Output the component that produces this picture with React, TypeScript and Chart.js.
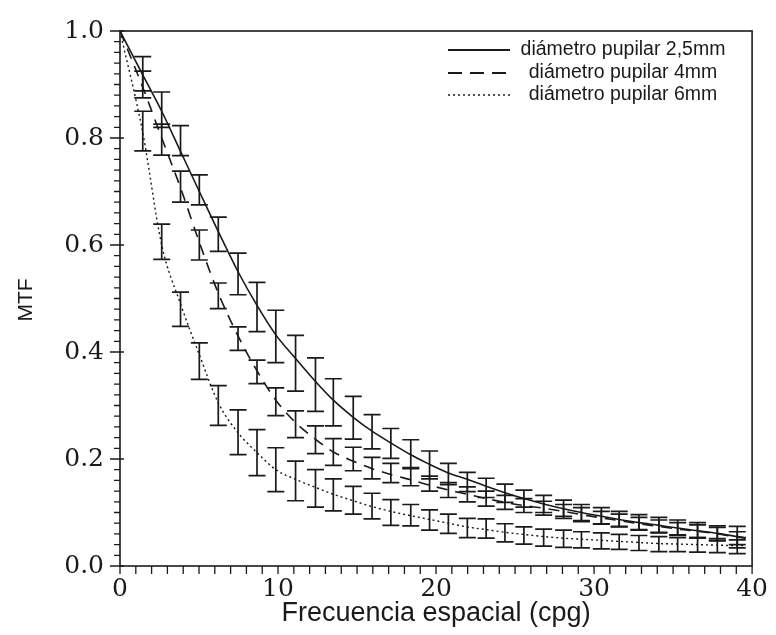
import { useEffect, useRef } from 'react';
import { Chart, registerables } from 'chart.js';

Chart.register(...registerables);

// Spatial frequencies (cpg) at which the measured points (error bars) sit
const freqs = [1.44, 2.64, 3.83, 5.02, 6.22, 7.47, 8.67, 9.86, 11.11, 12.37, 13.5, 14.76, 15.95, 17.14, 18.4, 19.59, 20.78, 21.98, 23.17, 24.36, 25.56, 26.81, 28.07, 29.2, 30.46, 31.59, 32.84, 34.1, 35.29, 36.55, 37.8, 39.06];

// Fitted curves (x positions: 0, the frequencies above, 39.6)
const curveX = [0, ...freqs, 39.6];
const curve25 = [1.0, 0.918, 0.85, 0.775, 0.70, 0.625, 0.55, 0.487, 0.432, 0.388, 0.345, 0.31, 0.278, 0.252, 0.23, 0.208, 0.19, 0.174, 0.162, 0.149, 0.137, 0.126, 0.116, 0.107, 0.1, 0.093, 0.087, 0.081, 0.076, 0.071, 0.066, 0.061, 0.055, 0.053];
const curve4 = [1.0, 0.895, 0.80, 0.707, 0.605, 0.51, 0.43, 0.365, 0.31, 0.268, 0.237, 0.213, 0.196, 0.182, 0.171, 0.161, 0.151, 0.142, 0.134, 0.126, 0.119, 0.113, 0.108, 0.102, 0.096, 0.09, 0.085, 0.079, 0.074, 0.069, 0.065, 0.06, 0.054, 0.052];
const curve6 = [1.0, 0.81, 0.60, 0.49, 0.395, 0.305, 0.249, 0.212, 0.18, 0.162, 0.147, 0.134, 0.122, 0.111, 0.102, 0.094, 0.087, 0.08, 0.073, 0.068, 0.063, 0.059, 0.055, 0.052, 0.05, 0.048, 0.046, 0.044, 0.042, 0.041, 0.04, 0.039, 0.038, 0.038];

// Measured means and half error-bar lengths
const mean25 = [0.92, 0.853, 0.795, 0.703, 0.62, 0.546, 0.484, 0.429, 0.379, 0.339, 0.306, 0.277, 0.251, 0.229, 0.209, 0.189, 0.172, 0.157, 0.146, 0.136, 0.126, 0.116, 0.108, 0.1, 0.094, 0.088, 0.082, 0.077, 0.072, 0.067, 0.061, 0.054];
const err25 = [0.032, 0.033, 0.028, 0.028, 0.032, 0.039, 0.046, 0.049, 0.052, 0.05, 0.044, 0.04, 0.032, 0.028, 0.027, 0.026, 0.02, 0.018, 0.018, 0.017, 0.016, 0.016, 0.015, 0.015, 0.015, 0.014, 0.014, 0.014, 0.014, 0.014, 0.014, 0.02];
const mean4 = [0.9, 0.797, 0.709, 0.6, 0.505, 0.425, 0.363, 0.307, 0.265, 0.236, 0.213, 0.2, 0.183, 0.174, 0.167, 0.154, 0.142, 0.134, 0.126, 0.119, 0.113, 0.108, 0.102, 0.096, 0.09, 0.085, 0.079, 0.074, 0.069, 0.065, 0.06, 0.052];
const err4 = [0.025, 0.029, 0.029, 0.028, 0.024, 0.022, 0.022, 0.026, 0.025, 0.026, 0.025, 0.022, 0.02, 0.018, 0.017, 0.014, 0.014, 0.014, 0.014, 0.013, 0.013, 0.013, 0.013, 0.013, 0.012, 0.012, 0.012, 0.012, 0.012, 0.012, 0.012, 0.012];
const mean6 = [0.813, 0.606, 0.48, 0.383, 0.3, 0.25, 0.212, 0.18, 0.159, 0.145, 0.133, 0.123, 0.112, 0.1, 0.095, 0.086, 0.079, 0.071, 0.07, 0.062, 0.057, 0.053, 0.051, 0.049, 0.047, 0.045, 0.043, 0.041, 0.04, 0.039, 0.038, 0.036];
const err6 = [0.037, 0.033, 0.032, 0.034, 0.037, 0.042, 0.043, 0.041, 0.037, 0.035, 0.03, 0.026, 0.024, 0.024, 0.02, 0.019, 0.018, 0.018, 0.018, 0.017, 0.016, 0.016, 0.016, 0.015, 0.015, 0.014, 0.014, 0.014, 0.013, 0.013, 0.013, 0.013];

const seriesLabels = ['diámetro pupilar 2,5mm', 'diámetro pupilar 4mm', 'diámetro pupilar 6mm'];
const seriesDash = [[], [11, 8], [2, 3]];
const legendDash = [[], [14, 8], [2, 3]];

const xTitle = 'Frecuencia espacial (cpg)';
const yTitle = 'MTF';

const INK = '#1a1a1a';
const SANS = '"Liberation Sans", Arial, sans-serif';
const SERIF = '"DejaVu Serif", serif';

const errSeries = [
  { mean: mean25, err: err25 },
  { mean: mean4, err: err4 },
  { mean: mean6, err: err6 },
];

const overlay = {
  id: 'overlay',
  afterDatasetsDraw(chart: any) {
    const { ctx, chartArea: a, scales } = chart;
    const x = scales.x;
    const y = scales.y;
    ctx.save();
    ctx.strokeStyle = INK;
    ctx.setLineDash([]);
    // error bars
    ctx.lineWidth = 1.7;
    const cap = 8.5;
    errSeries.forEach((s) => {
      freqs.forEach((f, i) => {
        const px = x.getPixelForValue(f);
        const top = y.getPixelForValue(s.mean[i] + s.err[i]);
        const bot = y.getPixelForValue(s.mean[i] - s.err[i]);
        ctx.beginPath();
        ctx.moveTo(px, top);
        ctx.lineTo(px, bot);
        ctx.moveTo(px - cap, top);
        ctx.lineTo(px + cap, top);
        ctx.moveTo(px - cap, bot);
        ctx.lineTo(px + cap, bot);
        ctx.stroke();
      });
    });
    // frame
    ctx.lineWidth = 1.6;
    ctx.strokeRect(a.left, a.top, a.right - a.left, a.bottom - a.top);
    // x ticks (every 1 cpg)
    ctx.lineWidth = 1.3;
    ctx.beginPath();
    for (let v = 0; v <= 40; v++) {
      const px = x.getPixelForValue(v);
      ctx.moveTo(px, a.bottom);
      ctx.lineTo(px, a.bottom + 8);
    }
    // y ticks (every 0.02)
    for (let k = 0; k <= 50; k++) {
      const py = y.getPixelForValue(k / 50);
      const major = k % 10 === 0;
      ctx.moveTo(a.left - (major ? 10 : 6), py);
      ctx.lineTo(a.left + (major ? 4 : 0), py);
    }
    ctx.stroke();
    // y-axis title
    ctx.fillStyle = INK;
    ctx.font = `21px ${SANS}`;
    ctx.textAlign = 'center';
    ctx.textBaseline = 'middle';
    ctx.save();
    ctx.translate(26, 300);
    ctx.rotate(-Math.PI / 2);
    ctx.fillText(yTitle, 0, 0);
    ctx.restore();
    // legend
    const rows = [50, 73, 95];
    ctx.font = `19.5px ${SANS}`;
    seriesLabels.forEach((lab, i) => {
      ctx.lineWidth = i === 2 ? 1.3 : 2;
      ctx.setLineDash(legendDash[i]);
      ctx.beginPath();
      ctx.moveTo(448, rows[i]);
      ctx.lineTo(510, rows[i]);
      ctx.stroke();
      ctx.fillText(lab, 623, rows[i]);
    });
    ctx.restore();
  },
};

export default function App() {
  const ref = useRef<HTMLCanvasElement | null>(null);
  useEffect(() => {
    if (!ref.current) return;
    const mk = (vals: number[]) => curveX.map((xv, i) => ({ x: xv, y: vals[i] }));
    const chart = new Chart(ref.current, {
      type: 'line',
      data: {
        datasets: [
          { label: seriesLabels[0], data: mk(curve25), borderColor: INK, borderWidth: 1.6, borderDash: seriesDash[0], pointRadius: 0, cubicInterpolationMode: 'monotone', fill: false },
          { label: seriesLabels[1], data: mk(curve4), borderColor: INK, borderWidth: 1.6, borderDash: seriesDash[1], pointRadius: 0, cubicInterpolationMode: 'monotone', fill: false },
          { label: seriesLabels[2], data: mk(curve6), borderColor: INK, borderWidth: 1.4, borderDash: seriesDash[2], pointRadius: 0, cubicInterpolationMode: 'monotone', fill: false },
        ],
      },
      options: {
        responsive: false,
        animation: false,
        layout: { padding: { left: 0, right: 19, top: 20, bottom: 0 } },
        plugins: { legend: { display: false }, tooltip: { enabled: false } },
        scales: {
          x: {
            type: 'linear',
            min: 0,
            max: 40,
            grid: { display: false, drawTicks: false },
            border: { display: false },
            ticks: { stepSize: 10, padding: 8, maxRotation: 0, color: INK, font: { family: SERIF, size: 25 } },
            title: { display: true, text: xTitle, color: INK, font: { family: SANS, size: 27 }, padding: { top: 0, bottom: 5 } },
            afterFit: (s: any) => { s.height = 69; },
          },
          y: {
            type: 'linear',
            min: 0,
            max: 1,
            grid: { display: false, drawTicks: false },
            border: { display: false },
            ticks: { stepSize: 0.2, padding: 16, color: INK, font: { family: SERIF, size: 25 }, callback: (v: any) => Number(v).toFixed(1) },
            title: { display: false },
            afterFit: (s: any) => { s.width = 120; },
          },
        },
      },
      plugins: [overlay],
    } as any);
    return () => chart.destroy();
  }, []);
  return (
    <div style={{ position: 'absolute', left: 0, top: 0, width: 776, height: 635, background: '#fff' }}>
      <canvas ref={ref} width={776} height={635} style={{ display: 'block', width: 776, height: 635 }} />
    </div>
  );
}
